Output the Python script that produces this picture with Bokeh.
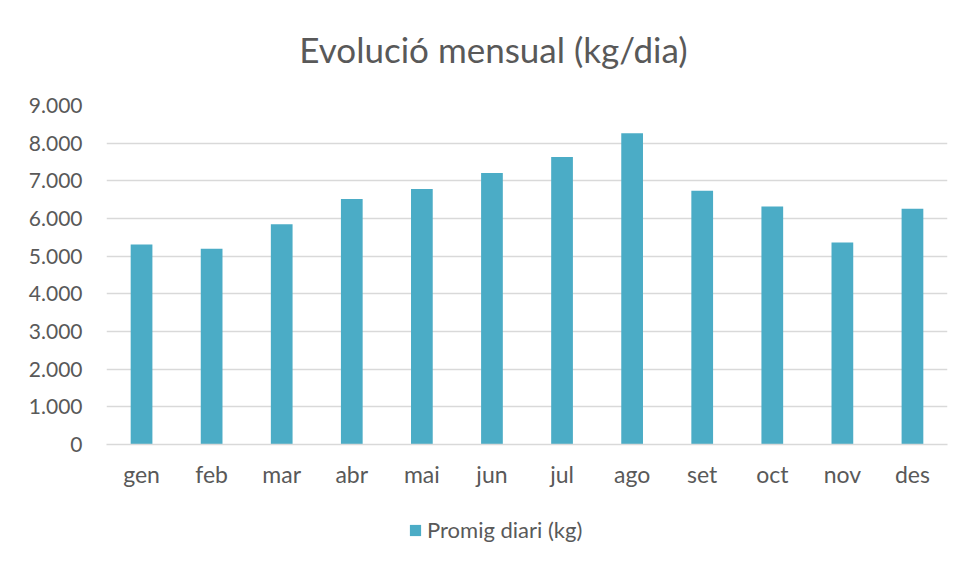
from bokeh.plotting import figure
from bokeh.layouts import column
from bokeh.models import FactorRange, Range1d, FixedTicker, Legend, LegendItem, Label
from bokeh.embed import file_html
from bokeh.resources import INLINE

months = ["gen", "feb", "mar", "abr", "mai", "jun", "jul", "ago", "set", "oct", "nov", "des"]
values = [5310, 5200, 5850, 6520, 6780, 7210, 7630, 8260, 6740, 6320, 5360, 6260]
y_ticks = [0, 1000, 2000, 3000, 4000, 5000, 6000, 7000, 8000, 9000]
y_tick_labels = ["0", "1.000", "2.000", "3.000", "4.000", "5.000", "6.000", "7.000", "8.000", "9.000"]
title_text = "Evolució mensual (kg/dia)"
series_name = "Promig diari (kg)"

FONT = "Lato"
TXT = "#595959"
BAR = "#4BACC6"
GRID = "#d9d9d9"
W = 955
LEFT, RIGHT = 106, 8


def strip(h, x_range, y_range):
    s = figure(width=W, height=h, x_range=x_range, y_range=y_range,
               x_axis_type=None, y_axis_type=None, output_backend="svg", toolbar_location=None,
               min_border_left=LEFT, min_border_right=RIGHT, min_border_top=0, min_border_bottom=0)
    s.outline_line_color = None
    s.xgrid.grid_line_color = None
    s.ygrid.grid_line_color = None
    return s


# title strip (pixel-like ranges so the label sits where the reference title is)
pt = strip(85, Range1d(LEFT, W - RIGHT), Range1d(0, 85))
pt.add_layout(Label(x=493, y=37, text=title_text, text_font=FONT, text_font_size="35px",
                    text_color=TXT, text_align="center", text_baseline="alphabetic"))

# main chart
p = figure(width=W, height=405, x_range=FactorRange(*months), y_range=Range1d(0, 9000),
           output_backend="svg", toolbar_location=None,
           min_border_left=LEFT, min_border_right=RIGHT, min_border_top=20, min_border_bottom=44)
p.outline_line_color = None
p.background_fill_color = "white"
p.border_fill_color = "white"

r = p.vbar(x=months, top=values, width=0.31, color=BAR, line_color=None)

p.xgrid.grid_line_color = None
p.ygrid.grid_line_color = GRID
p.ygrid.grid_line_width = 1.5
p.yaxis.ticker = FixedTicker(ticks=y_ticks)
p.yaxis.major_label_overrides = {t: l for t, l in zip(y_ticks, y_tick_labels)}
p.yaxis.axis_line_color = None
p.yaxis.major_tick_line_color = None
p.yaxis.minor_tick_line_color = None
p.yaxis.major_label_standoff = 18
p.yaxis.major_label_text_font = FONT
p.yaxis.major_label_text_font_size = "21px"
p.yaxis.major_label_text_color = TXT

p.xaxis.axis_line_color = GRID
p.xaxis.axis_line_width = 1.5
p.xaxis.major_tick_line_color = None
p.xaxis.minor_tick_line_color = None
p.xaxis.major_label_standoff = 9
p.xaxis.major_label_text_font = FONT
p.xaxis.major_label_text_font_size = "23px"
p.xaxis.major_label_text_color = TXT

# legend strip below the chart
pl = strip(65, FactorRange(*months), Range1d(0, 9000))
rl = pl.vbar(x=months, top=values, width=0.31, color=BAR, line_color=None, visible=False)
legend = Legend(items=[LegendItem(label=series_name, renderers=[rl])],
                location=(302, 12), orientation="horizontal",
                padding=0, margin=0, border_line_color=None, background_fill_alpha=0,
                glyph_width=14, glyph_height=14, label_standoff=5,
                label_text_font=FONT, label_text_font_size="22px", label_text_color=TXT)
pl.add_layout(legend, "center")

layout = column(pt, p, pl, spacing=0)
open("out.html", "w").write(file_html(layout, INLINE))
